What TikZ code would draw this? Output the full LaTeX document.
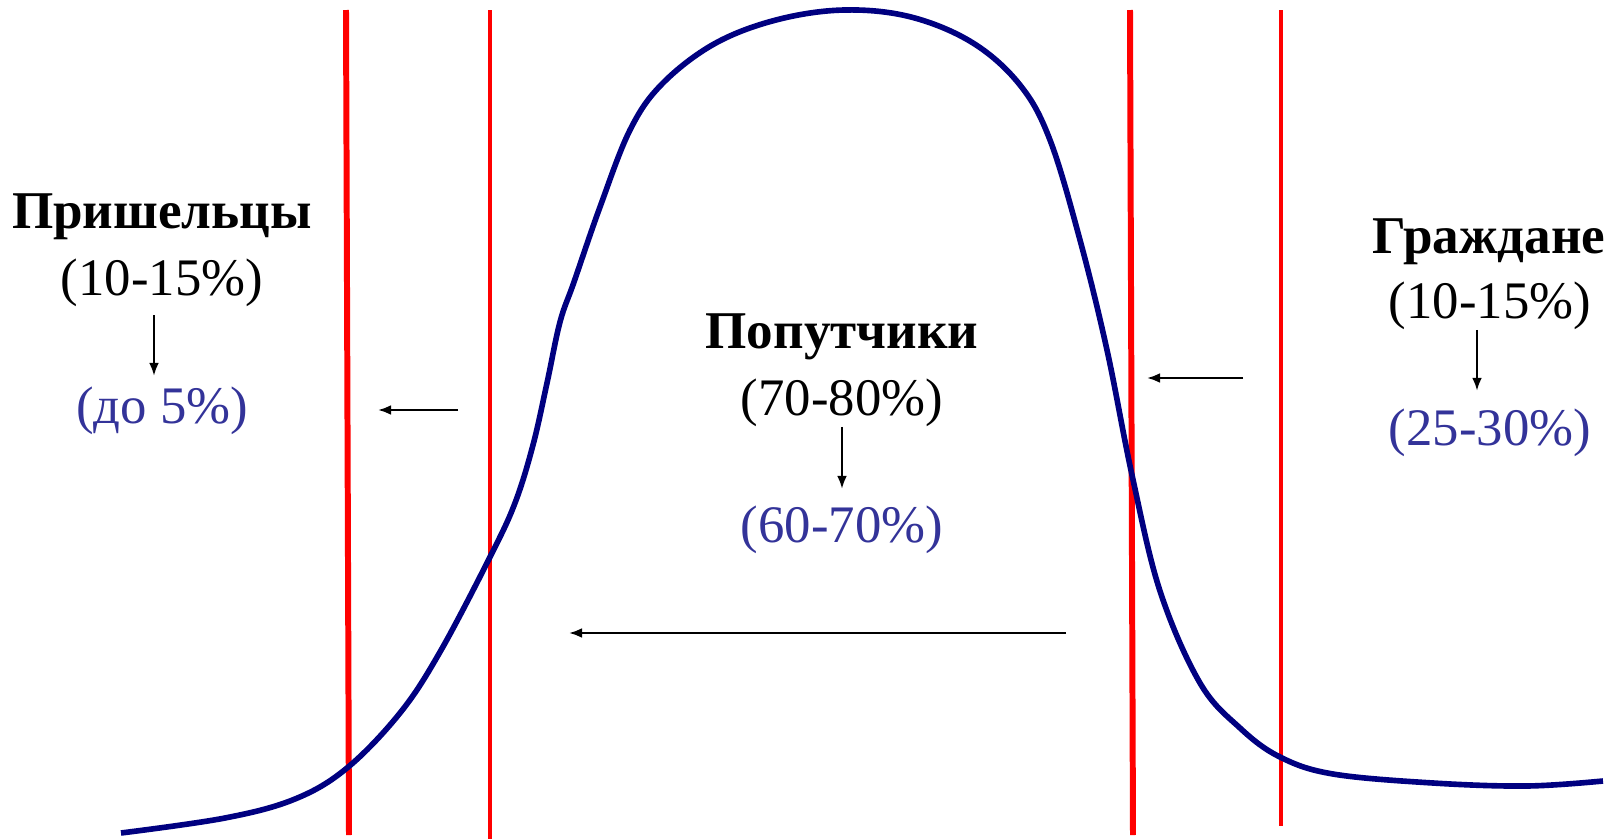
\documentclass[tikz,border=0pt]{standalone}
\usepackage{fontspec}
\setmainfont{Liberation Serif}
\usetikzlibrary{arrows.meta}
\definecolor{navy}{HTML}{000080}
\definecolor{lblue}{HTML}{333399}
\begin{document}
\begin{tikzpicture}[x=0.01cm,y=-0.01cm,
  redthick/.style={red,line width=1.7pt},
  redthin/.style={red,line width=1.1pt},
  curve/.style={navy,line width=1.6pt,line join=round,line cap=butt},
  title/.style={font=\fontsize{15.1}{18}\selectfont\bfseries,inner sep=0pt,anchor=base},
  old/.style={font=\fontsize{15}{18}\selectfont,inner sep=0pt,anchor=base},
  new/.style={old,text=lblue},
  arr/.style={-{Latex[length=3.7pt,width=2.8pt]},line width=0.65pt}]
\useasboundingbox (0,0) rectangle (1623,839);

% red dividing lines
\draw[redthick] (346,10) -- (349,835);
\draw[redthin] (490,10) -- (490,839);
\draw[redthick] (1130,10) -- (1133,835);
\draw[redthin] (1281,10) -- (1281,826);

% distribution curve
\draw[curve] plot[smooth,tension=0.6] coordinates {
(121,833) (225,818) (295,799) (347,768) (400,713) (440,652)
(490,557) (515,503) (533,445) (547,383) (560,322) (574,282)
(600,207) (630,130) (662,84) (714,44) (776,20) (844,10)
(911,17) (973,43) (1020,85) (1050,140) (1080,240) (1107,350)
(1132,475) (1160,591) (1200,683) (1240,728) (1280,757)
(1333,774) (1433,783) (1527,786) (1603,781)};

% left group
\node[title] (lt) at (162,228) {Пришельцы};
\node[old] (lo) at (162,295) {(10-15\%)};
\node[new] (ln) at (162,423) {(до 5\%)};
\draw[arr,shorten <=2.4pt,shorten >=2.8pt] (lo.south -| 154,0) -- (ln.north -| 154,0);

% centre group
\node[title] (ct) at (842,348) {Попутчики};
\node[old] (co) at (842,415) {(70-80\%)};
\node[new] (cn) at (842,542) {(60-70\%)};
\draw[arr,shorten >=4.5pt] (co.south) -- (cn.north);

% right group
\node[title] (rt) at (1489,253) {Граждане};
\node[old] (ro) at (1490,318) {(10-15\%)};
\node[new] (rn) at (1490,445) {(25-30\%)};
\draw[arr,shorten >=4.8pt] (ro.south -| 1477,0) -- (rn.north -| 1477,0);

% horizontal arrows
\coordinate (a1s) at (458,410);
\coordinate (a1e) at (378,410);
\coordinate (a2s) at (1243,378);
\coordinate (a2e) at (1147,378);
\coordinate (a3s) at (1066,633);
\coordinate (a3e) at (569,633);
\draw[arr] (a1s) -- (a1e);
\draw[arr] (a2s) -- (a2e);
\draw[arr] (a3s) -- (a3e);
\end{tikzpicture}
\end{document}
